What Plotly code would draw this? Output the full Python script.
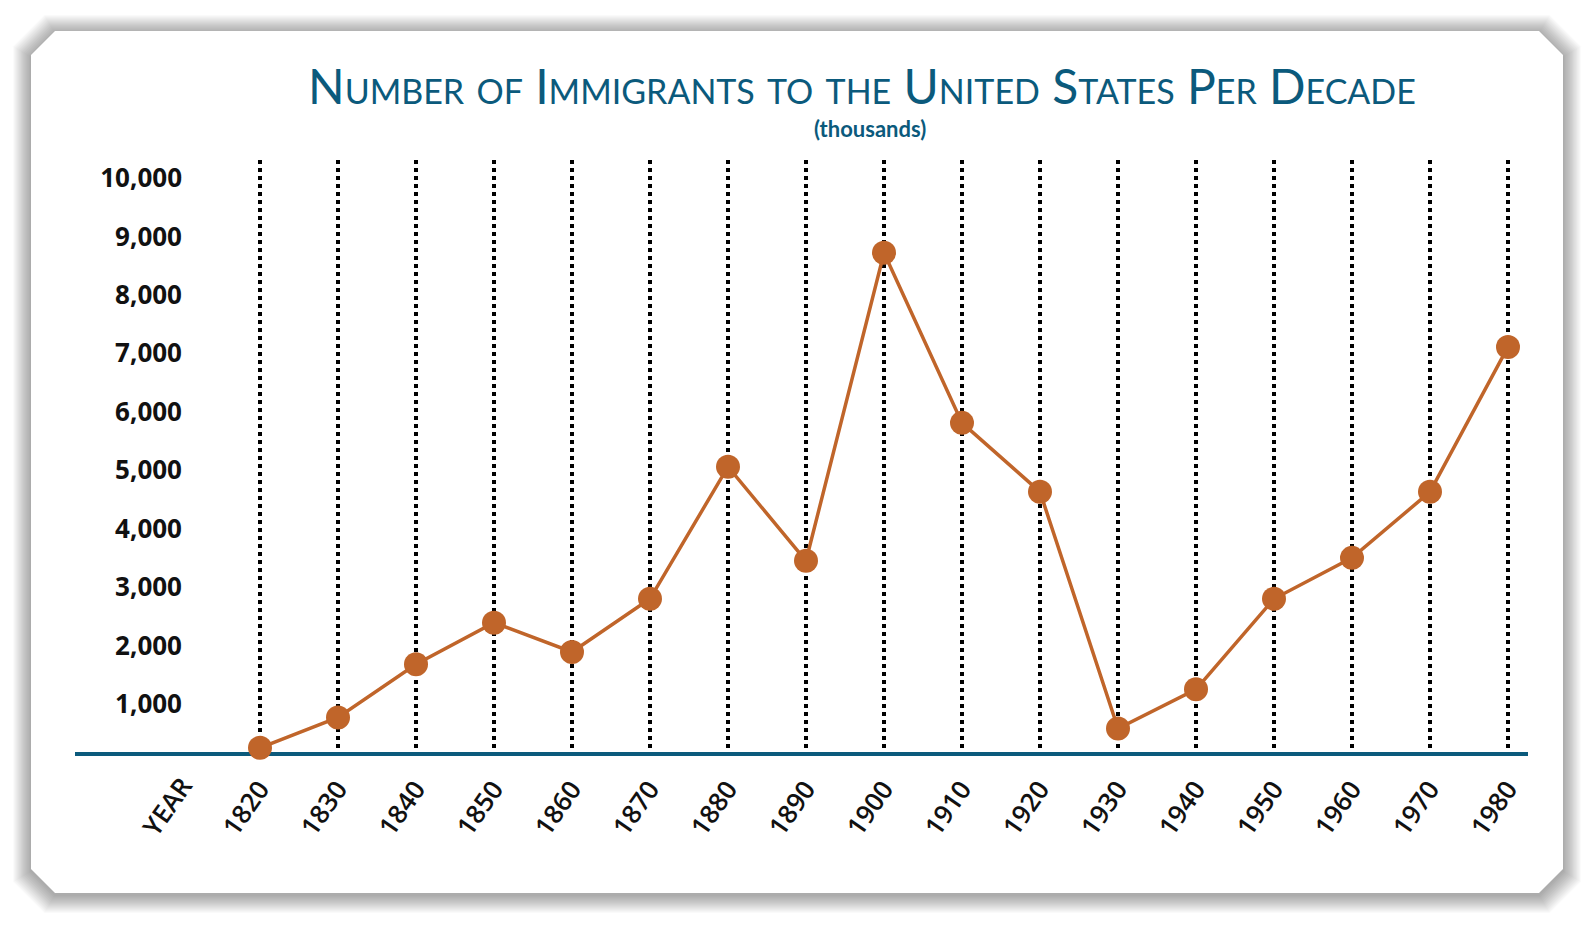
import plotly.graph_objects as go

# ---------------- data ----------------
years = [1820, 1830, 1840, 1850, 1860, 1870, 1880, 1890, 1900,
         1910, 1920, 1930, 1940, 1950, 1960, 1970, 1980]
immigrants = [250, 770, 1680, 2390, 1890, 2800, 5060, 3450, 8720,
              5810, 4630, 580, 1250, 2800, 3500, 4630, 7110]
y_tick_values = [1000, 2000, 3000, 4000, 5000, 6000, 7000, 8000, 9000, 10000]
y_tick_labels = ["1,000", "2,000", "3,000", "4,000", "5,000",
                 "6,000", "7,000", "8,000", "9,000", "10,000"]
x_tick_labels = [str(y) for y in years]
title_text = "Number of Immigrants to the United States Per Decade"
subtitle_text = "(thousands)"
x_axis_label = "YEAR"

# ---------------- styling ----------------
W, H = 1594, 925
TEAL = "#0b5a7c"
ORANGE = "#c0652a"
INK = "#111111"


def px(x):
    return x / W


def py(y):
    return 1 - y / H


def chamfer_path(l, t, r, b, c):
    pts = [(l + c, t), (r - c, t), (r, t + c), (r, b - c),
           (r - c, b), (l + c, b), (l, b - c), (l, t + c)]
    return "M " + " L ".join(f"{px(x):.5f},{py(y):.5f}" for x, y in pts) + " Z"


CARD = (31, 31, 1563, 893, 24)

shapes = []
for k in range(18, 0, -1):
    l, t, r, b, c = CARD
    shapes.append(dict(type="path", xref="paper", yref="paper", layer="below",
                       path=chamfer_path(l - k, t - k + 2, r + k, b + k + 2, c + k * 0.4),
                       fillcolor="rgba(0,0,0,0.02)", line=dict(width=0)))
shapes.append(dict(type="path", xref="paper", yref="paper", layer="below",
                   path=chamfer_path(*CARD), fillcolor="#ffffff",
                   line=dict(width=0)))

fig = go.Figure()
fig.add_trace(go.Scatter(
    x=years, y=immigrants, mode="lines+markers",
    line=dict(color=ORANGE, width=3.5),
    marker=dict(size=24, color=ORANGE, line=dict(width=0)),
    cliponaxis=False, hoverinfo="x+y", showlegend=False,
))

# x range: 1820 at 260px, 78px per decade, axis line from 75px to 1528px
x_min = 1820 - (260 - 75) / 7.8
x_max = 1820 + (1528 - 260) / 7.8

fig.update_layout(
    width=W, height=H,
    margin=dict(l=0, r=0, t=0, b=0),
    paper_bgcolor="#ffffff",
    plot_bgcolor="rgba(0,0,0,0)",
    shapes=shapes,
    xaxis=dict(
        domain=[px(75), px(1528)],
        range=[x_min, x_max],
        tickmode="array", tickvals=years, ticktext=x_tick_labels,
        tickangle=-55, ticklabelstandoff=7,
        tickfont=dict(family="Open Sans", size=26, color=INK, weight=600),
        showgrid=True, gridcolor="#000000", gridwidth=3.5, griddash="3.5px,4.5px",
        showline=True, linecolor=TEAL, linewidth=4,
        zeroline=False, ticks="", layer="below traces",
        automargin=False, fixedrange=True,
    ),
    yaxis=dict(
        domain=[py(752.3), py(160)],
        range=[173, 10308],
        anchor="free", position=px(182),
        tickmode="array", tickvals=y_tick_values, ticktext=y_tick_labels,
        tickfont=dict(family="Open Sans", size=26, color=INK, weight=700),
        showgrid=False, showline=False, zeroline=False, ticks="",
        automargin=False, fixedrange=True,
    ),
    annotations=[
        dict(text=title_text, xref="paper", yref="paper",
             x=px(862), y=py(86), xanchor="center", yanchor="middle",
             showarrow=False,
             font=dict(family="Lato", size=48, color=TEAL, variant="small-caps")),
        dict(text=subtitle_text, xref="paper", yref="paper",
             x=px(870), y=py(128), xanchor="center", yanchor="middle",
             showarrow=False,
             font=dict(family="Lato", size=22, color=TEAL, weight=700)),
        dict(text=x_axis_label, xref="paper", yref="paper",
             x=px(167), y=py(806), xanchor="center", yanchor="middle",
             textangle=-55, showarrow=False,
             font=dict(family="Open Sans", size=26, color=INK, weight=600)),
    ],
)

fig.write_html("out.html", config={"displayModeBar": False},
               post_script="document.body.style.margin='0';document.body.style.overflow='hidden';")
